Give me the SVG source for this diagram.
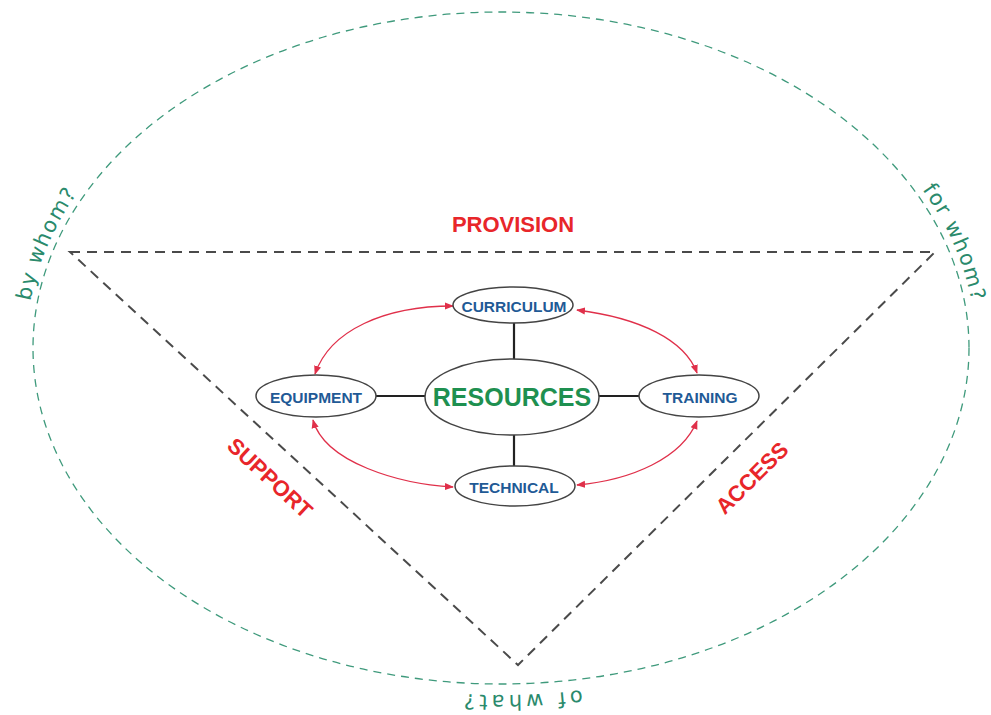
<svg xmlns="http://www.w3.org/2000/svg" width="991" height="715" viewBox="0 0 991 715">
  <defs>
    <marker id="arrow" viewBox="0 0 10 10" refX="9" refY="5" markerWidth="9" markerHeight="9" markerUnits="userSpaceOnUse" orient="auto-start-reverse">
      <path d="M0,1 L10,5 L0,9 Z" fill="#e0304a"/>
    </marker>
    <!-- clockwise arcs just outside the dashed ellipse, used as text baselines -->
    <path id="arcLeft" d="M26.7,367.1 A475,343 0 0 1 120.7,142.5"/>
    <path id="arcRight" d="M880.3,141.6 A475,343 0 0 1 975.3,365.9"/>
    <path id="arcBottom" d="M682.8,668.6 A475,347 0 0 1 358.2,679"/>
  </defs>
  <style>
    .outer { fill: none; stroke: #3f9a7c; stroke-width: 1.3; stroke-dasharray: 8 6; }
    .tri { fill: none; stroke: #4a4a4a; stroke-width: 2; stroke-dasharray: 10 7; }
    .node { fill: #ffffff; stroke: #444444; stroke-width: 1.5; }
    .link { stroke: #222222; stroke-width: 2.2; fill: none; }
    .arc { stroke: #e0304a; stroke-width: 1.3; fill: none; marker-start: url(#arrow); marker-end: url(#arrow); }
    .lbl { font-family: "Liberation Sans", Arial, sans-serif; font-weight: bold; font-size: 15.5px; fill: #1f5a96; text-anchor: middle; dominant-baseline: central; }
    .side { font-family: "Liberation Sans", Arial, sans-serif; font-weight: bold; font-size: 22px; fill: #e8262a; text-anchor: middle; dominant-baseline: central; }
    .who { font-family: "DejaVu Sans", Verdana, sans-serif; font-size: 21px; fill: #2a8a6c; text-anchor: middle; letter-spacing: 1.5px; }
  </style>

  <rect width="991" height="715" fill="#ffffff"/>

  <!-- outer frame: dashed ellipse and inverted triangle -->
  <ellipse class="outer" cx="501" cy="348" rx="468" ry="336"/>
  <polygon class="tri" points="70,252 935,252 518,665"/>

  <!-- questions round the ellipse -->
  <text class="who"><textPath href="#arcLeft" startOffset="50%">by whom?</textPath></text>
  <text class="who"><textPath href="#arcRight" startOffset="50%">for whom?</textPath></text>
  <text class="who" style="letter-spacing:4px"><textPath href="#arcBottom" startOffset="50%">of what?</textPath></text>

  <!-- triangle side labels -->
  <text class="side" x="513" y="224">PROVISION</text>
  <text class="side" transform="translate(270,478) rotate(42.7)">SUPPORT</text>
  <text class="side" transform="translate(752,478) rotate(-44.7)">ACCESS</text>

  <!-- connectors -->
  <g id="connectors">
    <line class="link" x1="514" y1="323" x2="514" y2="359"/>
    <line class="link" x1="514" y1="435" x2="514" y2="466"/>
    <line class="link" x1="376" y1="396" x2="425" y2="396"/>
    <line class="link" x1="599" y1="396" x2="639" y2="396"/>
    <path class="arc" d="M453,306 C385,306 330,330 315,374"/>
    <path class="arc" d="M577,310 C640,318 685,340 697,373"/>
    <path class="arc" d="M313,420 C325,463 400,484 453,487"/>
    <path class="arc" d="M697,421 C682,458 632,480 577,485"/>
  </g>

  <g id="resources">
    <ellipse class="node" cx="512" cy="397" rx="87" ry="38"/>
    <text x="512" y="397" font-family="Liberation Sans, Arial, sans-serif" font-weight="bold" font-size="25" fill="#1e9050" text-anchor="middle" dominant-baseline="central">RESOURCES</text>
  </g>
  <g id="curriculum">
    <ellipse class="node" cx="513" cy="305" rx="60" ry="18"/>
    <text class="lbl" x="514" y="306">CURRICULUM</text>
  </g>
  <g id="equipment">
    <ellipse class="node" cx="316" cy="396" rx="60" ry="21"/>
    <text class="lbl" x="316" y="397">EQUIPMENT</text>
  </g>
  <g id="training">
    <ellipse class="node" cx="699" cy="396" rx="60" ry="21"/>
    <text class="lbl" x="700" y="397">TRAINING</text>
  </g>
  <g id="technical">
    <ellipse class="node" cx="515" cy="486" rx="60" ry="20"/>
    <text class="lbl" x="514" y="487">TECHNICAL</text>
  </g>
</svg>
